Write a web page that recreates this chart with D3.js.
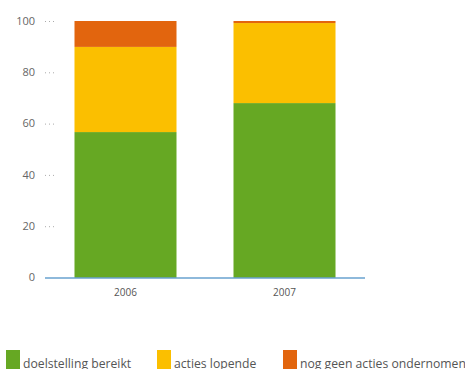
<!DOCTYPE html>
<html><head><meta charset="utf-8">
<script src="https://cdn.jsdelivr.net/npm/d3@7"></script>
<style>body{margin:0;background:#fff}svg{display:block}</style>
</head><body><svg id="c" width="465" height="369"></svg>
<script>
const categories = ["2006", "2007"];
const seriesNames = ["doelstelling bereikt", "acties lopende", "nog geen acties ondernomen"];
const doelstelling = [56.7, 68.0];
const lopende = [33.2, 31.2];
const nietOndernomen = [10.1, 0.8];
const yTicks = [0, 20, 40, 60, 80, 100];
const colors = ["#66a823", "#fbbf00", "#e2650e"];

const svg = d3.select("#c");
const font = "'Open Sans', sans-serif";
const x = d3.scaleBand().domain(categories).range([45, 365]).paddingInner(0.3585).paddingOuter(0.1855);
const y = d3.scaleLinear().domain([0, 100]).range([277.5, 21]);

const rows = categories.map((c, i) => ({cat: c, a: doelstelling[i], b: lopende[i], c: nietOndernomen[i]}));
const stack = d3.stack().keys(["a", "b", "c"])(rows);

svg.append("g").selectAll("g").data(stack).join("g")
  .attr("fill", (d, i) => colors[i])
  .selectAll("rect").data(d => d).join("rect")
  .attr("x", d => x(d.data.cat))
  .attr("width", x.bandwidth())
  .attr("y", d => y(d[1]))
  .attr("height", d => y(d[0]) - y(d[1]));

// y axis labels and dotted ticks
const yg = svg.append("g");
yTicks.forEach(t => {
  yg.append("text").attr("x", 35).attr("y", y(t)).attr("dy", "0.35em")
    .attr("text-anchor", "end").attr("font-family", font).attr("font-size", 11)
    .attr("fill", "#666").text(t);
  if (t > 0) yg.append("line").attr("x1", 45).attr("x2", 54).attr("y1", y(t) + 0.5).attr("y2", y(t) + 0.5)
    .attr("stroke", "#aaa").attr("stroke-dasharray", "1,3");
});

// x axis baseline
svg.append("line").attr("x1", 45).attr("x2", 365).attr("y1", 278).attr("y2", 278)
  .attr("stroke", "#1f74b8").attr("stroke-width", 1.2);

const xAxis = d3.axisBottom(x).tickSize(0).tickPadding(0);
const xg = svg.append("g").attr("transform", "translate(0,289)").call(xAxis);
xg.select(".domain").remove();
xg.selectAll("text").attr("font-family", font).attr("font-size", 10).attr("fill", "#555");

// legend
const legX = [6, 157, 283];
const lg = svg.append("g");
seriesNames.forEach((n, i) => {
  lg.append("rect").attr("x", legX[i]).attr("y", 350).attr("width", 14).attr("height", 20).attr("fill", colors[i]);
  lg.append("text").attr("x", legX[i] + 17).attr("y", 368).attr("font-family", font).attr("font-size", 12.2)
    .attr("fill", "#555").text(n);
});
</script></body></html>
